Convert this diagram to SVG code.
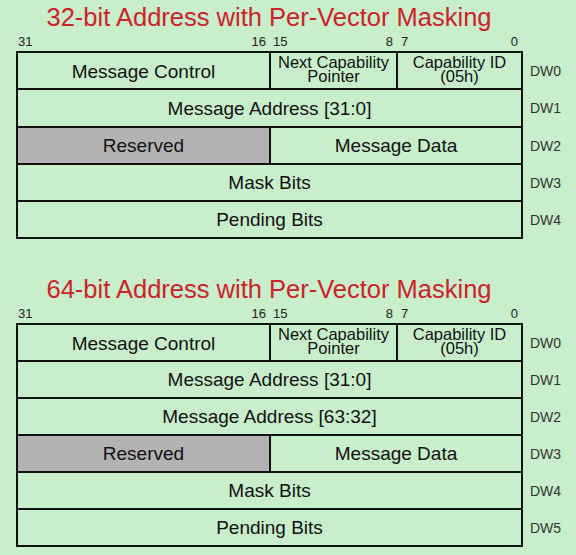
<svg xmlns="http://www.w3.org/2000/svg" width="576" height="555" viewBox="0 0 576 555">
<style>
.bg{fill:#c8eecb}
.cell{fill:#c8eecb;stroke:#111;stroke-width:2}
.res{fill:#b3b3b3;stroke:#111;stroke-width:2}
.title{font-family:"Liberation Sans",Arial,sans-serif;font-size:25.5px;fill:#cc2229;text-anchor:middle}
.bit{font-family:"Liberation Sans",Arial,sans-serif;font-size:13px;fill:#222}
.t{font-family:"Liberation Sans",Arial,sans-serif;font-size:19px;fill:#111;text-anchor:middle}
.s{font-family:"Liberation Sans",Arial,sans-serif;font-size:16.5px;fill:#111;text-anchor:middle}
.dw{font-family:"Liberation Sans",Arial,sans-serif;font-size:14px;fill:#333}
.e{text-anchor:end}
</style>
<rect class="bg" x="0" y="0" width="576" height="555"/>

<g id="block32">
<text class="title" x="269" y="26">32-bit Address with Per-Vector Masking</text>
<text class="bit" x="18" y="46">31</text>
<text class="bit e" x="266" y="46">16</text>
<text class="bit" x="273" y="46">15</text>
<text class="bit e" x="393" y="46">8</text>
<text class="bit" x="401" y="46">7</text>
<text class="bit e" x="518" y="46">0</text>
<g id="b32-dw0">
<rect class="cell" x="17" y="52" width="253" height="37"/>
<rect class="cell" x="270" y="52" width="127" height="37"/>
<rect class="cell" x="397" y="52" width="125" height="37"/>
<text class="t" x="143.5" y="77.5">Message Control</text>
<text class="s" x="333.5" y="67.5"><tspan x="333.5">Next Capability</tspan><tspan x="333.5" dy="14">Pointer</tspan></text>
<text class="s" x="459.5" y="67.5"><tspan x="459.5">Capability ID</tspan><tspan x="459.5" dy="14">(05h)</tspan></text>
<text class="dw" x="530" y="76">DW0</text>
</g>
<g id="b32-dw1">
<rect class="cell" x="17" y="89" width="505" height="38"/>
<text class="t" x="269.5" y="114.5">Message Address [31:0]</text>
<text class="dw" x="530" y="113">DW1</text>
</g>
<g id="b32-dw2">
<rect class="res" x="17" y="127" width="253" height="37"/>
<rect class="cell" x="270" y="127" width="252" height="37"/>
<text class="t" x="143.5" y="152">Reserved</text>
<text class="t" x="396" y="152">Message Data</text>
<text class="dw" x="530" y="151">DW2</text>
</g>
<g id="b32-dw3">
<rect class="cell" x="17" y="164" width="505" height="37"/>
<text class="t" x="269.5" y="189">Mask Bits</text>
<text class="dw" x="530" y="188">DW3</text>
</g>
<g id="b32-dw4">
<rect class="cell" x="17" y="201" width="505" height="37"/>
<text class="t" x="269.5" y="226">Pending Bits</text>
<text class="dw" x="530" y="225">DW4</text>
</g>
</g>

<g id="block64">
<text class="title" x="269" y="298">64-bit Address with Per-Vector Masking</text>
<text class="bit" x="18" y="318">31</text>
<text class="bit e" x="266" y="318">16</text>
<text class="bit" x="273" y="318">15</text>
<text class="bit e" x="393" y="318">8</text>
<text class="bit" x="401" y="318">7</text>
<text class="bit e" x="518" y="318">0</text>
<g id="b64-dw0">
<rect class="cell" x="17" y="324" width="253" height="37"/>
<rect class="cell" x="270" y="324" width="127" height="37"/>
<rect class="cell" x="397" y="324" width="125" height="37"/>
<text class="t" x="143.5" y="349.5">Message Control</text>
<text class="s" x="333.5" y="339.5"><tspan x="333.5">Next Capability</tspan><tspan x="333.5" dy="14">Pointer</tspan></text>
<text class="s" x="459.5" y="339.5"><tspan x="459.5">Capability ID</tspan><tspan x="459.5" dy="14">(05h)</tspan></text>
<text class="dw" x="530" y="348">DW0</text>
</g>
<g id="b64-dw1">
<rect class="cell" x="17" y="361" width="505" height="37"/>
<text class="t" x="269.5" y="386">Message Address [31:0]</text>
<text class="dw" x="530" y="385">DW1</text>
</g>
<g id="b64-dw2">
<rect class="cell" x="17" y="398" width="505" height="37"/>
<text class="t" x="269.5" y="423">Message Address [63:32]</text>
<text class="dw" x="530" y="422">DW2</text>
</g>
<g id="b64-dw3">
<rect class="res" x="17" y="435" width="253" height="37"/>
<rect class="cell" x="270" y="435" width="252" height="37"/>
<text class="t" x="143.5" y="460">Reserved</text>
<text class="t" x="396" y="460">Message Data</text>
<text class="dw" x="530" y="459">DW3</text>
</g>
<g id="b64-dw4">
<rect class="cell" x="17" y="472" width="505" height="37"/>
<text class="t" x="269.5" y="497">Mask Bits</text>
<text class="dw" x="530" y="496">DW4</text>
</g>
<g id="b64-dw5">
<rect class="cell" x="17" y="509" width="505" height="37"/>
<text class="t" x="269.5" y="534">Pending Bits</text>
<text class="dw" x="530" y="533">DW5</text>
</g>
</g>
<g id="connectors"/>
</svg>
